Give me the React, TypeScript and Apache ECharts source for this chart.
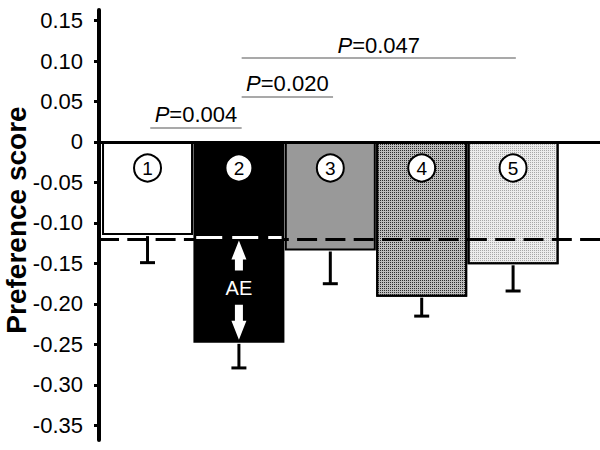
import React, { useEffect, useRef } from 'react';
import * as echarts from 'echarts';

const groups = ['1', '2', '3', '4', '5'];
const groupX = [1, 2, 3, 4, 5];
const means = [-0.115, -0.248, -0.134, -0.191, -0.151];
const sems = [0.034, 0.031, 0.041, 0.024, 0.033];
const barColors = ['#ffffff', '#000000', '#999999', '#bdbdbd', '#ececec'];
const decalColors = ['', '', '', 'rgba(30,30,30,0.9)', 'rgba(150,150,150,0.8)'];
const baselineValue = -0.118;
const yTicks = [0.15, 0.1, 0.05, 0, -0.05, -0.1, -0.15, -0.2, -0.25, -0.3, -0.35];
const pTexts = ['0.004', '0.020', '0.047'];
const pFrom = [1, 2, 2];
const pTo = [2, 3, 5];
const pLevels = [0.0173, 0.056, 0.1037];
const aeGroup = 2;

const FONT = '"Liberation Sans", Arial, sans-serif';

export default function App() {
  const ref = useRef<HTMLDivElement>(null);
  useEffect(() => {
    if (!ref.current) return;
    const chart = echarts.init(ref.current, undefined, { renderer: 'svg' });

    const barData = groupX.map((x, i) => {
      const itemStyle: any = { color: barColors[i], borderColor: '#000', borderWidth: 2 };
      if (decalColors[i]) {
        itemStyle.decal = {
          symbol: 'rect',
          symbolSize: 1,
          color: decalColors[i],
          dashArrayX: [1, 1],
          dashArrayY: [1, 1],
          rotation: 0,
        };
      }
      return { value: [x, means[i]], itemStyle };
    });
    const errData = groupX.map((x, i) => [x, means[i], means[i] - sems[i]]);
    const circleData = groupX.map((x) => [x, 0]);
    const aeIdx = groupX.indexOf(aeGroup);

    const pLines = pTexts.map((t, i) => [
      {
        coord: [pFrom[i] + 0.03, pLevels[i]],
        lineStyle: { color: '#8c8c8c', width: 1.5, type: 'solid' },
        label: {
          show: true,
          position: 'middle',
          formatter: '{i|P}=' + t,
          color: '#000',
          fontSize: 22,
          fontFamily: FONT,
          distance: 2,
          rich: { i: { fontStyle: 'italic', fontSize: 22, fontFamily: FONT, color: '#000' } },
        },
      },
      { coord: [pTo[i] + 0.03, pLevels[i]] },
    ]);

    chart.setOption({
      animation: false,
      textStyle: { fontFamily: FONT },
      grid: { left: 99, right: 0, top: 10, bottom: 10 },
      xAxis: {
        type: 'value',
        min: 0.469,
        max: 5.951,
        axisLabel: { show: false },
        axisTick: { show: false },
        splitLine: { show: false },
        axisLine: { show: true, onZero: true, lineStyle: { color: '#000', width: 3 } },
      },
      yAxis: {
        type: 'value',
        min: -0.368,
        max: 0.163,
        splitLine: { show: false },
        axisLine: { show: true, lineStyle: { color: '#000', width: 4 } },
        axisTick: {
          show: true,
          length: 5,
          lineStyle: { color: '#000', width: 3 },
          customValues: yTicks,
        },
        axisLabel: {
          customValues: yTicks,
          margin: 16,
          fontSize: 22,
          color: '#000',
          fontFamily: FONT,
          formatter: (v: number) => (Math.abs(v) < 1e-9 ? '0' : v.toFixed(2)),
        },
      },
      graphic: [
        {
          type: 'text',
          x: 16,
          y: 220,
          rotation: Math.PI / 2,
          style: {
            text: 'Preference score',
            font: 'bold 28px ' + FONT,
            fill: '#000',
            align: 'center',
            verticalAlign: 'middle',
          },
        },
      ],
      series: [
        {
          type: 'bar',
          data: barData,
          barWidth: 91,
          z: 2,
          markLine: {
            silent: true,
            symbol: ['none', 'none'],
            animation: false,
            label: { show: false },
            data: [
              {
                yAxis: baselineValue,
                lineStyle: { color: '#000', width: 3, type: [20, 8.3] },
                label: { show: false },
              },
              ...pLines,
            ],
          },
        },
        {
          type: 'custom',
          z: 3,
          data: errData,
          renderItem: (params: any, api: any) => {
            const x = api.value(0);
            const a = api.coord([x, api.value(1)]);
            const b = api.coord([x, api.value(2)]);
            return {
              type: 'group',
              children: [
                { type: 'line', shape: { x1: a[0], y1: a[1] + 1, x2: b[0], y2: b[1] }, style: { stroke: '#000', lineWidth: 3 } },
                { type: 'line', shape: { x1: b[0] - 7.5, y1: b[1], x2: b[0] + 7.5, y2: b[1] }, style: { stroke: '#000', lineWidth: 3 } },
              ],
            };
          },
        },
        {
          type: 'custom',
          z: 8,
          data: circleData,
          renderItem: (params: any, api: any) => {
            const p = api.coord([api.value(0), api.value(1)]);
            const cy = p[1] + 26;
            return {
              type: 'group',
              children: [
                { type: 'circle', shape: { cx: p[0], cy, r: 13.5 }, style: { fill: '#fff', stroke: '#000', lineWidth: 2 } },
                {
                  type: 'text',
                  style: {
                    text: groups[params.dataIndex],
                    x: p[0],
                    y: cy + 1,
                    align: 'center',
                    verticalAlign: 'middle',
                    font: '19px ' + FONT,
                    fill: '#000',
                  },
                },
              ],
            };
          },
        },
        {
          type: 'custom',
          z: 10,
          data: [[aeGroup, baselineValue, means[aeIdx]]],
          renderItem: (params: any, api: any) => {
            const x = api.value(0);
            const top = api.coord([x, api.value(1)]);
            const bot = api.coord([x, api.value(2)]);
            const left = api.coord([x - 0.5, api.value(1)]);
            const right = api.coord([x + 0.5, api.value(1)]);
            const cx = top[0];
            const t = top[1];
            const b = bot[1];
            const hw = 7.5;
            const sw = 4;
            return {
              type: 'group',
              children: [
                {
                  type: 'line',
                  shape: { x1: left[0] + 3, y1: t, x2: right[0] - 3, y2: t },
                  style: { stroke: '#fff', lineWidth: 3, lineDash: [26, 10] },
                },
                {
                  type: 'polygon',
                  shape: {
                    points: [
                      [cx, t + 3],
                      [cx + hw, t + 22],
                      [cx + sw, t + 22],
                      [cx + sw, t + 33],
                      [cx - sw, t + 33],
                      [cx - sw, t + 22],
                      [cx - hw, t + 22],
                    ],
                  },
                  style: { fill: '#fff' },
                },
                {
                  type: 'text',
                  style: {
                    text: 'AE',
                    x: cx,
                    y: (t + b) / 2 - 2,
                    align: 'center',
                    verticalAlign: 'middle',
                    font: '20px ' + FONT,
                    fill: '#fff',
                  },
                },
                {
                  type: 'polygon',
                  shape: {
                    points: [
                      [cx, b - 3],
                      [cx + hw, b - 22],
                      [cx + sw, b - 22],
                      [cx + sw, b - 38],
                      [cx - sw, b - 38],
                      [cx - sw, b - 22],
                      [cx - hw, b - 22],
                    ],
                  },
                  style: { fill: '#fff' },
                },
              ],
            };
          },
        },
      ],
    });
    return () => chart.dispose();
  }, []);
  return (
    <div
      ref={ref}
      style={{ position: 'absolute', left: 0, top: 0, width: 600, height: 450, background: '#fff' }}
    />
  );
}
